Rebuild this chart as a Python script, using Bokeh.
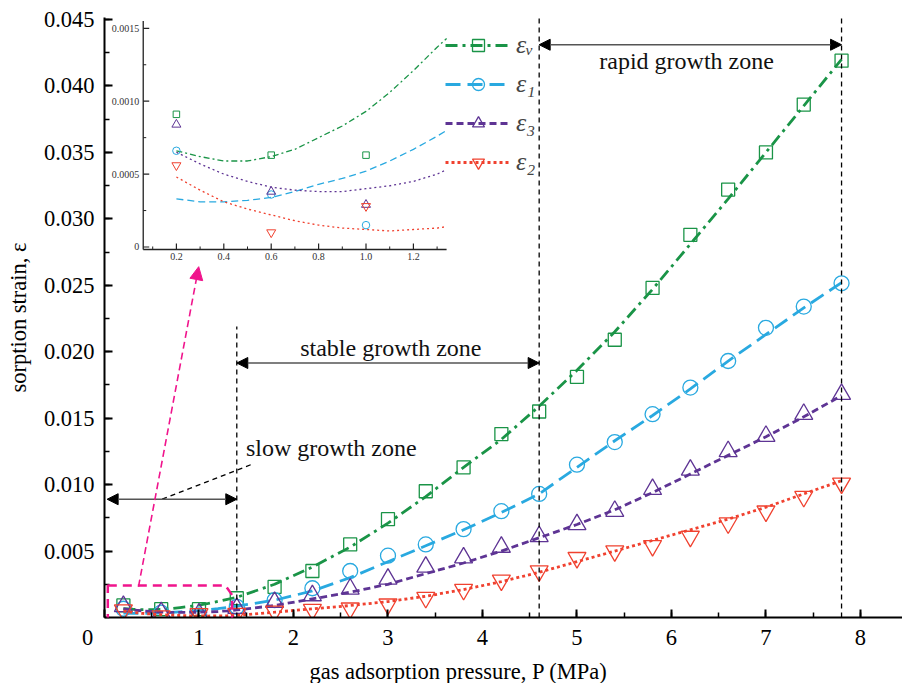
from bokeh.plotting import figure
from bokeh.models import (Range1d, FixedTicker, PrintfTickFormatter, Legend, LegendItem,
                          Arrow, NormalHead, Label, PolyAnnotation)
from bokeh.embed import file_html
from bokeh.resources import INLINE

FONT = "Liberation Serif"

# ---------------- data ----------------
pressure = [0.2, 0.6, 1.0, 1.4, 1.8, 2.2, 2.6, 3.0, 3.4, 3.8,
            4.2, 4.6, 5.0, 5.4, 5.8, 6.2, 6.6, 7.0, 7.4, 7.8]
eps_v = [0.00091, 0.00063, 0.00063, 0.00145, 0.0023, 0.0035, 0.0055, 0.0074, 0.0095, 0.0113,
         0.0138, 0.0155, 0.0181, 0.0209, 0.0248, 0.0288, 0.0322, 0.0350, 0.0386, 0.0419]
eps_1 = [0.00066, 0.00036, 0.00015, 0.0008, 0.0013, 0.0022, 0.0035, 0.00465, 0.0055, 0.00665,
         0.0080, 0.0093, 0.0115, 0.0132, 0.0153, 0.0173, 0.0193, 0.0218, 0.0234, 0.02515]
eps_3 = [0.00084, 0.00038, 0.00029, 0.0007, 0.00115, 0.00165, 0.00215, 0.0029, 0.0038, 0.0045,
         0.0053, 0.0061, 0.0070, 0.0080, 0.00965, 0.0111, 0.0125, 0.01365, 0.0153, 0.0168]
eps_2 = [0.00056, 0.0001, 0.00028, 0.0003, 0.00047, 0.0006, 0.0007, 0.0010, 0.0015, 0.0021,
         0.0028, 0.0035, 0.0045, 0.0050, 0.0054, 0.0061, 0.0071, 0.0080, 0.0091, 0.0101]

# fitted trend curves
fit_P = [0.2, 0.3, 0.4, 0.5, 0.6, 0.7, 0.8, 0.9, 1.0, 1.1, 1.2, 1.3, 1.34,
         1.4, 1.8, 2.2, 2.6, 3.0, 3.4, 3.8, 4.2, 4.6, 5.0, 5.4, 5.8, 6.2, 6.6, 7.0, 7.4, 7.8]
fit_v = [0.00066, 0.00062, 0.00059, 0.00059, 0.00062, 0.00067, 0.00075, 0.00083, 0.00093, 0.00106,
         0.00121, 0.00137, 0.00143,
         0.00152, 0.0025, 0.0038, 0.0053, 0.0071, 0.0091, 0.0113, 0.0134, 0.0159, 0.0186, 0.0215,
         0.0247, 0.0281, 0.0315, 0.0350, 0.0385, 0.0420]
fit_1 = [0.00033, 0.00031, 0.00031, 0.00032, 0.00034, 0.00038, 0.00043, 0.00047, 0.00052, 0.00059,
         0.00067, 0.00076, 0.0008,
         0.00086, 0.0013, 0.0020, 0.0030, 0.0042, 0.0054, 0.0066, 0.0079, 0.0093, 0.0113, 0.0133,
         0.0152, 0.0172, 0.0193, 0.0213, 0.0233, 0.0252]
fit_3 = [0.00065, 0.00057, 0.0005, 0.00045, 0.00041, 0.00039, 0.00038, 0.00038, 0.0004, 0.00042,
         0.00045, 0.0005, 0.00053,
         0.00057, 0.0009, 0.0014, 0.0019, 0.0025, 0.0033, 0.0041, 0.0050, 0.0060, 0.0070, 0.0081,
         0.0094, 0.0108, 0.0122, 0.0136, 0.0151, 0.0167]
fit_2 = [0.00048, 0.00039, 0.00031, 0.00026, 0.00022, 0.00018, 0.00015, 0.00013, 0.00012, 0.00011,
         0.00012, 0.00013, 0.00014,
         0.00016, 0.0004, 0.00065, 0.0009, 0.0012, 0.0016, 0.0021, 0.0027, 0.0034, 0.0042, 0.0050,
         0.0058, 0.0066, 0.0074, 0.0083, 0.0093, 0.0103]

x_ticks = [0, 1, 2, 3, 4, 5, 6, 7, 8]
y_ticks = [0.005, 0.010, 0.015, 0.020, 0.025, 0.030, 0.035, 0.040, 0.045]
inset_x_ticks = [0.2, 0.4, 0.6, 0.8, 1.0, 1.2]
inset_x_minor = [0.1, 0.3, 0.5, 0.7, 0.9, 1.1, 1.3]
inset_y_ticks = [0.0, 0.0005, 0.0010, 0.0015]
inset_y_labels = ["0", "0.0005", "0.0010", "0.0015"]
inset_y_minor = [0.00025, 0.00075, 0.00125]
zone_bounds = [1.4, 4.6, 7.8]
inset_limit_P = 1.34

GREEN, BLUE, PURPLE, RED = "#1a9447", "#29a9e0", "#5e3494", "#f0412f"
MAGENTA = "#f0148c"

# ---------------- figure ----------------
p = figure(frame_width=798, frame_height=600,
           min_border_left=104, min_border_right=0, min_border_top=17, min_border_bottom=66,
           x_range=Range1d(0, 8.445), y_range=Range1d(0, 0.04515),
           output_backend="svg", toolbar_location=None)
p.outline_line_color = None
p.grid.visible = False
p.background_fill_color = "white"

for ax in (p.xaxis[0], p.yaxis[0]):
    ax.axis_line_width = 2
    ax.major_tick_line_width = 2
    ax.minor_tick_line_width = 1.5
    ax.major_tick_in = 8
    ax.major_tick_out = 0
    ax.minor_tick_in = 5
    ax.minor_tick_out = 0
    ax.major_label_text_font = FONT
    ax.major_label_text_font_size = "22.5px"
    ax.major_label_text_color = "black"
    ax.axis_label_text_font = FONT
    ax.axis_label_text_font_size = "22.5px"
    ax.axis_label_text_font_style = "normal"
    ax.axis_label_text_color = "black"

p.xaxis.ticker = FixedTicker(ticks=x_ticks, minor_ticks=[0.5 * k for k in range(1, 17)])
# shift the "0" label left of the origin, as in the reference
p.xaxis.major_label_overrides = {0: "0\u2003\u2002"}
p.xaxis.major_label_standoff = 7
p.xaxis.axis_label = "gas adsorption pressure, P (MPa)" + "\u2003" * 4
p.xaxis.axis_label_standoff = 6
p.yaxis.ticker = FixedTicker(ticks=y_ticks, minor_ticks=[0.0025 * k for k in range(0, 19)])
p.yaxis.formatter = PrintfTickFormatter(format="%.3f")
p.yaxis.major_label_standoff = 10
p.yaxis.axis_label = "sorption strain, \u03b5"
p.yaxis.axis_label_standoff = 10

# ---------------- inset coordinate system ----------------
p.extra_x_ranges = {"ix": Range1d(-0.1034, 3.2637)}
p.extra_y_ranges = {"iy": Range1d(-0.0025412, 0.0015741)}
IX0, IY0, IY1 = 0.06, -0.000017, 0.00155
tick_dx, tick_dy = 6 / 237.0, 6 / 145800.0
ik = dict(x_range_name="ix", y_range_name="iy")

p.segment(x0=[IX0, IX0], y0=[IY0, IY0], x1=[IX0, inset_limit_P], y1=[IY1, IY0],
          line_color="#222222", line_width=1.3, **ik)
p.segment(x0=[IX0] * 4, y0=inset_y_ticks, x1=[IX0 + tick_dx] * 4, y1=inset_y_ticks,
          line_color="#222222", line_width=1.2, **ik)
p.segment(x0=[IX0] * 3, y0=inset_y_minor, x1=[IX0 + tick_dx / 2] * 3, y1=inset_y_minor,
          line_color="#222222", line_width=1.0, **ik)
p.segment(x0=inset_x_ticks, y0=[IY0] * 6, x1=inset_x_ticks, y1=[IY0 + tick_dy] * 6,
          line_color="#222222", line_width=1.2, **ik)
p.segment(x0=inset_x_minor, y0=[IY0] * 7, x1=inset_x_minor, y1=[IY0 + tick_dy / 2] * 7,
          line_color="#222222", line_width=1.0, **ik)
p.text(x=[IX0] * 4, y=inset_y_ticks, text=inset_y_labels, x_offset=-4, text_align="right",
       text_baseline="middle", text_font={"value": FONT}, text_font_size="10px",
       text_color="#333333", **ik)
p.text(x=inset_x_ticks, y=[IY0] * 6, text=["%.1f" % t for t in inset_x_ticks], y_offset=4,
       text_align="center", text_baseline="top", text_font={"value": FONT},
       text_font_size="10px", text_color="#333333", **ik)

n_in = fit_P.index(inset_limit_P) + 1
series = [
    ("\u03b5\u1d65", eps_v, fit_v, GREEN, "square", 13, 6.5, "12 5 3 5", "6 3 2 3"),
    ("\u03b5\u2081", eps_1, fit_1, BLUE, "circle", 15, 7.5, "15 7", "7 4"),
    ("\u03b5\u2083", eps_3, fit_3, PURPLE, "triangle", 18, 9, "7 4", "2 3"),
    ("\u03b5\u2082", eps_2, fit_2, RED, "inverted_triangle", 18, 9, "3 3", "2 3"),
]
items = []
for label, pts, fit, col, mk, sz, isz, dash, idash in series:
    # inset
    p.line(fit_P[:n_in], fit[:n_in], line_color=col, line_width=1.3, line_dash=idash, **ik)
    p.scatter(pressure[:3], pts[:3], marker=mk, size=isz, fill_color=None, line_color=col,
              line_width=1.0, **ik)
    # main
    lr = p.line(fit_P, fit, line_color=col, line_width=2.8, line_dash=dash)
    sr = p.scatter(pressure, pts, marker=mk, size=sz, fill_color=None, line_color=col,
                   line_width=1.3)
    items.append(LegendItem(label=label, renderers=[lr, sr]))

legend = Legend(items=items, location=(341, 440), glyph_width=66, glyph_height=30,
                label_height=30, spacing=9, padding=0, margin=0, border_line_color=None,
                background_fill_alpha=0, label_text_font=FONT, label_text_font_style="italic",
                label_text_font_size="26px", label_standoff=5)
p.add_layout(legend)

# ---------------- zone annotations ----------------
p.segment(x0=zone_bounds, y0=[0, 0, 0], x1=zone_bounds, y1=[0.0219, 0.04515, 0.04515],
          line_color="black", line_width=1.3, line_dash="5 4")


def harrow(x0, x1, y):
    p.add_layout(Arrow(x_start=x0, y_start=y, x_end=x1, y_end=y,
                       start=NormalHead(size=11, fill_color="black", line_color="black"),
                       end=NormalHead(size=11, fill_color="black", line_color="black"),
                       line_color="#555555", line_width=1.6))


harrow(4.6, 7.8, 0.0431)
harrow(1.4, 4.6, 0.01915)
harrow(0.028, 1.4, 0.0089)

for txt, x, y in [("rapid growth zone", 6.16, 0.04185), ("stable growth zone", 3.03, 0.0203),
                  ("slow growth zone", 2.40, 0.01277)]:
    p.add_layout(Label(x=x, y=y, text=txt, text_align="center", text_baseline="middle",
                       text_font=FONT, text_font_size="24px", text_color="#111111"))

p.line([0.61, 1.56], [0.0089, 0.01153], line_color="black", line_width=1.3, line_dash="5 4")

p.add_layout(PolyAnnotation(xs=[0.035, 1.28, 1.35, 1.35, 0.035],
                            ys=[0.0024, 0.0024, 0.0017, -0.00055, -0.00055],
                            fill_alpha=0, line_alpha=1.0, line_color=MAGENTA, line_width=2.5,
                            line_dash="9 6"))
p.add_layout(Arrow(x_start=0.36, y_start=0.00233, x_end=0.997, y_end=0.0264,
                   end=NormalHead(size=13, fill_color=MAGENTA, line_color=MAGENTA),
                   line_color=MAGENTA, line_width=1.6, line_dash="7 4"))

open("out.html", "w").write(file_html(p, INLINE))
